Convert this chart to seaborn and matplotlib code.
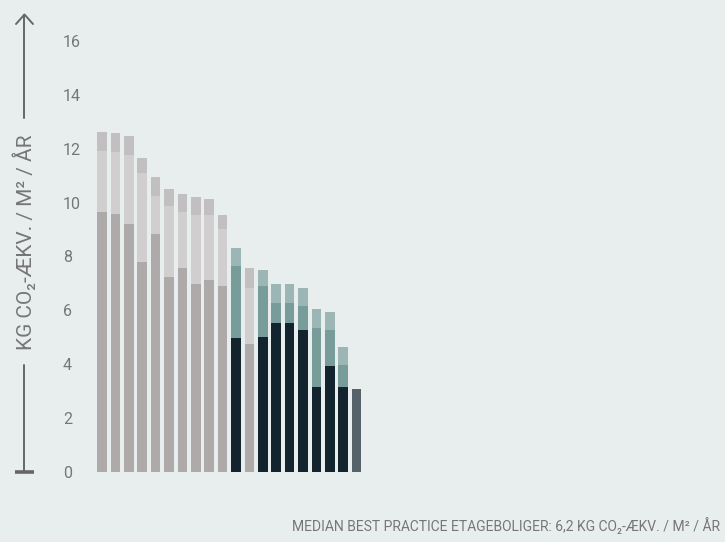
import numpy as np
import pandas as pd
import matplotlib
matplotlib.use("Agg")
import matplotlib.pyplot as plt
from matplotlib.lines import Line2D
import seaborn as sns

# Values (kg CO2-eq / m2 / year), one entry per bar
bars = [f"b{i:02d}" for i in range(20)]
kind = ["gray"] * 10 + ["teal", "gray"] + ["teal"] * 7 + ["single"]
seg_base = [9.64, 9.59, 9.19, 7.78, 8.82, 7.25, 7.56, 6.97, 7.14, 6.89,
            4.99, 4.75, 5.02, 5.54, 5.54, 5.27, 3.16, 3.92, 3.14, 3.07]
seg_mid = [2.28, 2.29, 2.58, 3.31, 1.41, 2.61, 2.10, 2.57, 2.40, 2.13,
           2.67, 2.07, 1.87, 0.73, 0.73, 0.88, 2.19, 1.36, 0.84, 0.0]
seg_top = [0.70, 0.69, 0.70, 0.57, 0.72, 0.66, 0.66, 0.68, 0.61, 0.52,
           0.64, 0.74, 0.61, 0.70, 0.70, 0.67, 0.70, 0.65, 0.66, 0.0]
y_ticks = [0, 2, 4, 6, 8, 10, 12, 14, 16]

colors = {
    "gray": ["#aeaaa9", "#d0cecf", "#c1bfbf"],
    "teal": ["#13242f", "#789c9a", "#9bb6b5"],
    "single": ["#56626a", "#56626a", "#56626a"],
}

BG = "#e8eeee"
TXT = "#767676"
LINE = "#666666"

df = pd.DataFrame({"bar": bars, "kind": kind,
                   "base": seg_base, "mid": seg_mid, "top": seg_top})
df["lvl1"] = df["base"]
df["lvl2"] = df["base"] + df["mid"]
df["lvl3"] = df["lvl2"] + df["top"]

sns.set_style("white")
plt.rcParams["font.family"] = ["Roboto", "DejaVu Sans"]

W, H = 725, 542
fig = plt.figure(figsize=(W / 100, H / 100), dpi=100, facecolor=BG)

def fx(px):
    return px / W

def fy(py):
    return 1 - py / H

# axes: y=0 at px 472, y=16 at px 41; bar i centred at px 102 + 13.4*i
ax_left, ax_right = 90, 720
ax = fig.add_axes([fx(ax_left), fy(472), fx(ax_right - ax_left), (472 - 41) / H])
ax.set_facecolor(BG)

# draw the stack from the tallest level down so each segment shows
for level, ci in [("lvl3", 2), ("lvl2", 1), ("lvl1", 0)]:
    pal = {b: colors[k][ci] for b, k in zip(df["bar"], df["kind"])}
    sns.barplot(data=df, x="bar", y=level, hue="bar", palette=pal,
                order=bars, hue_order=bars, legend=False, width=0.71,
                saturation=1, linewidth=0, ax=ax)

pitch = 13.4
ax.set_xlim((ax_left - 102) / pitch, (ax_right - 102) / pitch)
ax.set_ylim(0, 16)
ax.set_xticks([])
ax.set_yticks(y_ticks)
ax.set_yticklabels([str(t) for t in y_ticks], color=TXT, fontsize=11.5, ha="left")
ax.tick_params(axis="y", length=0, pad=27 * 72 / 100)
ax.set_xlabel("")
ax.set_ylabel("")
sns.despine(ax=ax, left=True, bottom=True)

# vertical axis arrow with label in the middle
x0 = fx(24.5)
fig.add_artist(Line2D([x0, x0], [fy(472), fy(365)], color=LINE, lw=1.4))
fig.add_artist(Line2D([x0, x0], [fy(118), fy(15)], color=LINE, lw=1.4))
fig.add_artist(Line2D([fx(16), x0, fx(33)], [fy(24), fy(14.5), fy(24)],
                      color=LINE, lw=1.4))
fig.add_artist(Line2D([fx(15), fx(34)], [fy(472), fy(472)], color=LINE,
                      lw=2.6, solid_capstyle="butt"))
fig.text(fx(24.5), fy(242), "KG CO\u2082-ÆKV. / M\u00b2 / ÅR", rotation=90,
         ha="center", va="center", color=TXT, fontsize=15)

fig.text(fx(720), fy(526), "MEDIAN BEST PRACTICE ETAGEBOLIGER: 6,2 KG CO\u2082-ÆKV. / M\u00b2 / ÅR",
         ha="right", va="center", color=TXT, fontsize=10)

fig.savefig("out.png", dpi=100, facecolor=BG)
